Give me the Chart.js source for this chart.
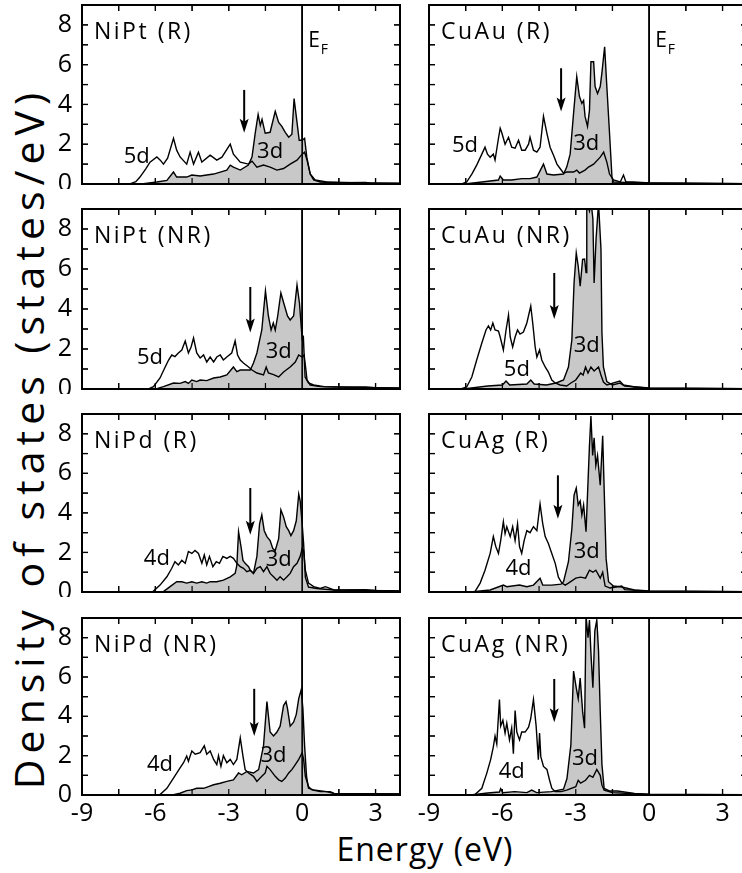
<!DOCTYPE html>
<html>
<head>
<meta charset="utf-8">
<title>Density of states</title>
<script src="https://cdn.jsdelivr.net/npm/chart.js@4.4.0/dist/chart.umd.min.js"></script>
<style>
  html, body { margin: 0; padding: 0; background: #fff; overflow: hidden; width: 742px; height: 873px; }
  canvas { position: absolute; }
  .title { position: absolute; font-family: 'Open Sans', sans-serif; color: #000; white-space: nowrap; }
  #ytitle { left: 28px; top: 438px; font-size: 41px; letter-spacing: 6px; transform: translate(-50%, -50%) rotate(-90deg); }
  #xtitle { left: 425px; top: 848px; font-size: 32px; letter-spacing: 1px; transform: translate(-50%, -50%); }
</style>
</head>
<body>
<div id="ytitle" class="title">Density of states (states/eV)</div>
<div id="xtitle" class="title">Energy (eV)</div>

<script>
// axis ticks
const energyTicks = [-9, -6, -3, 0, 3];
const dosTicks = [0, 2, 4, 6, 8];
const xMinor = [-7.5, -6, -4.5, -3, -1.5, 1.5, 3];
const yMinor = [1, 2, 3, 4, 5, 6, 7, 8];

// DOS curves, [energy (eV), states/eV]
const niptR_5d = [[-7.5,0],[-7.04,0],[-6.8,0.12],[-6.63,0.35],[-6.4,0.75],[-6.22,1.1],[-5.94,1.36],[-5.8,1.2],[-5.67,1.0],[-5.5,1.3],[-5.26,2.3],[-5.13,1.7],[-4.99,1.36],[-4.72,1.0],[-4.58,1.6],[-4.44,1.0],[-4.24,1.6],[-4.1,1.1],[-3.76,1.45],[-3.49,1.2],[-3.28,1.35],[-2.94,2.0],[-2.81,1.5],[-2.53,1.1],[-2.2,1.0],[-2.05,1.15],[-1.85,0.85],[-1.58,0.95],[-1.31,0.85],[-1.03,0.7],[-0.76,0.78],[-0.49,1.0],[-0.21,1.2],[0,1.5],[0.1,1.6],[0.2,1.2],[0.33,0.5],[0.47,0.2],[0.74,0.1],[1.5,0.06],[2.6,0.08],[2.8,0.04],[4,0.03]];
const niptR_3d = [[-7,0],[-6.49,0.02],[-5.94,0.1],[-5.53,0.18],[-5.26,0.6],[-5.13,0.35],[-4.72,0.35],[-4.51,0.45],[-4.17,0.4],[-3.9,0.45],[-3.62,0.5],[-3.35,0.6],[-3.08,0.7],[-2.94,0.95],[-2.81,0.85],[-2.53,0.7],[-2.2,0.95],[-2.05,1.35],[-1.92,2.55],[-1.8,3.5],[-1.71,2.95],[-1.64,3.25],[-1.51,2.55],[-1.31,2.6],[-1.1,3.65],[-0.96,3.1],[-0.83,2.9],[-0.69,2.6],[-0.55,2.35],[-0.42,2.5],[-0.33,4.3],[-0.21,3.1],[-0.12,2.2],[0,2.2],[0.1,2.3],[0.19,1.35],[0.33,0.5],[0.53,0.2],[1.0,0.1],[2,0.06],[4,0.04]];

const cuauR_5d = [[-8,0],[-7.66,0],[-7.46,0.1],[-7.25,0.5],[-7.05,0.95],[-6.84,1.5],[-6.71,1.85],[-6.61,1.5],[-6.5,1.35],[-6.37,1.5],[-6.3,1.2],[-6.16,2.3],[-6.09,2.8],[-6.03,2.6],[-5.89,2.0],[-5.75,2.35],[-5.62,1.85],[-5.48,1.8],[-5.34,2.2],[-5.21,1.7],[-5.07,1.7],[-4.93,2.0],[-4.87,2.35],[-4.73,1.7],[-4.59,1.6],[-4.46,1.85],[-4.32,3.4],[-4.18,2.55],[-4.05,1.85],[-3.91,1.45],[-3.77,1.0],[-3.64,0.78],[-3.5,0.55],[-3.37,0.6],[-3.09,0.6],[-2.96,0.7],[-2.85,0.55],[-2.62,0.7],[-2.48,0.85],[-2.27,1.0],[-2.0,1.35],[-1.86,1.6],[-1.73,1.1],[-1.62,0.5],[-1.46,0.2],[-1.18,0.1],[-1.05,0.45],[-0.95,0.1],[-0.64,0.1],[0,0.05],[4,0.02]];
const cuauR_3d = [[-7.6,0],[-7.46,0.02],[-6.84,0.1],[-6.16,0.2],[-6.09,0.4],[-5.96,0.2],[-5.62,0.2],[-5.21,0.27],[-4.87,0.27],[-4.59,0.35],[-4.32,1.0],[-4.18,0.5],[-3.91,0.45],[-3.5,0.5],[-3.37,0.85],[-3.23,1.5],[-3.09,3.55],[-2.96,5.4],[-2.85,4.4],[-2.75,4.05],[-2.68,4.2],[-2.62,3.4],[-2.52,2.9],[-2.44,3.7],[-2.38,6.15],[-2.27,6.15],[-2.21,4.9],[-2.11,4.55],[-2.0,4.9],[-1.93,5.6],[-1.82,6.9],[-1.73,4.9],[-1.62,2.55],[-1.52,0.35],[-1.46,0.1],[-1.0,0.08],[0,0.05],[4,0.02]];

const niptNR_5d = [[-6.5,0],[-6.28,0],[-6.08,0.12],[-5.81,0.55],[-5.6,1.1],[-5.46,1.45],[-5.33,1.7],[-5.2,1.62],[-5.06,1.8],[-4.92,1.95],[-4.78,2.4],[-4.65,1.8],[-4.54,2.1],[-4.44,2.55],[-4.31,1.8],[-4.17,1.55],[-4.03,1.7],[-3.9,1.35],[-3.76,1.6],[-3.62,1.35],[-3.49,1.6],[-3.35,1.7],[-3.22,1.45],[-3.08,1.6],[-2.88,1.8],[-2.74,2.4],[-2.64,1.7],[-2.53,1.45],[-2.4,1.3],[-2.19,1.1],[-2.05,0.95],[-1.85,0.8],[-1.58,0.7],[-1.47,1.1],[-1.38,0.8],[-1.17,0.72],[-0.96,0.6],[-0.76,0.85],[-0.49,1.1],[-0.28,1.35],[-0.14,1.7],[0,1.6],[0.08,1.7],[0.15,1.0],[0.2,0.45],[0.33,0.2],[0.74,0.12],[1.5,0.1],[2.6,0.1],[3.0,0.06],[4,0.04]];
const niptNR_3d = [[-6.2,0],[-5.94,0.02],[-5.67,0.12],[-5.26,0.3],[-4.99,0.28],[-4.78,0.37],[-4.65,0.28],[-4.51,0.45],[-4.31,0.37],[-4.17,0.45],[-3.9,0.42],[-3.62,0.55],[-3.35,0.6],[-3.08,0.7],[-2.81,1.1],[-2.67,0.87],[-2.53,0.95],[-2.33,0.95],[-2.12,0.95],[-1.99,1.3],[-1.85,1.8],[-1.65,2.95],[-1.5,4.9],[-1.38,3.65],[-1.27,2.95],[-1.18,3.3],[-1.1,2.95],[-1.0,3.65],[-0.87,4.8],[-0.73,4.2],[-0.6,3.65],[-0.49,3.45],[-0.35,3.65],[-0.21,5.2],[-0.11,4.3],[0,2.5],[0.05,2.6],[0.12,0.6],[0.26,0.3],[0.47,0.2],[0.9,0.12],[2,0.08],[4,0.05]];

const cuauNR_5d = [[-7.7,0],[-7.46,0.1],[-7.25,0.6],[-7.05,1.45],[-6.84,2.3],[-6.67,2.95],[-6.57,3.15],[-6.48,2.95],[-6.39,3.3],[-6.3,2.95],[-6.16,2.9],[-6.09,2.6],[-5.96,1.95],[-5.85,2.95],[-5.75,3.7],[-5.68,2.6],[-5.58,2.1],[-5.48,2.6],[-5.38,2.95],[-5.28,2.75],[-5.14,2.85],[-5.0,3.3],[-4.84,4.15],[-4.76,3.3],[-4.66,2.1],[-4.59,1.6],[-4.48,1.95],[-4.39,1.45],[-4.25,1.1],[-4.12,0.85],[-3.98,0.45],[-3.84,0.3],[-3.64,0.2],[-3.37,0.15],[-3.2,0.3],[-3.0,0.45],[-2.8,0.8],[-2.7,0.7],[-2.6,1.1],[-2.5,0.8],[-2.38,1.1],[-2.25,0.9],[-2.07,1.1],[-1.97,0.7],[-1.87,0.35],[-1.73,0.2],[-1.2,0.4],[-1.05,0.2],[-0.6,0.1],[0,0.04],[4,0.02]];
const cuauNR_3d = [[-7.6,0],[-6.6,0.15],[-6.0,0.2],[-5.85,0.4],[-5.7,0.2],[-5.0,0.25],[-4.84,0.45],[-4.7,0.25],[-4.2,0.2],[-3.8,0.3],[-3.5,0.45],[-3.3,1.1],[-3.16,2.46],[-3.07,5.3],[-2.98,6.8],[-2.9,6.15],[-2.82,5.14],[-2.72,6.48],[-2.64,6.5],[-2.58,5.82],[-2.55,9.3],[-2.44,8.9],[-2.38,9.4],[-2.3,8.5],[-2.25,5.3],[-2.17,7.5],[-2.07,9.3],[-1.97,7.0],[-1.93,2.8],[-1.87,1.1],[-1.73,0.37],[-1.5,0.2],[-1.2,0.3],[-1.0,0.15],[0,0.05],[4,0.02]];

const nipdR_4d = [[-6.4,0],[-6.1,0.02],[-5.81,0.35],[-5.53,0.77],[-5.33,1.2],[-5.2,1.53],[-5.06,1.37],[-4.92,1.6],[-4.78,1.45],[-4.65,2.05],[-4.51,1.95],[-4.38,2.1],[-4.24,1.95],[-4.1,1.45],[-4.0,1.87],[-3.9,1.37],[-3.79,1.8],[-3.65,1.28],[-3.51,1.53],[-3.38,1.45],[-3.24,1.8],[-3.08,1.7],[-2.94,1.8],[-2.81,1.7],[-2.67,1.45],[-2.53,1.28],[-2.4,1.2],[-2.26,1.03],[-2.12,1.1],[-1.99,0.94],[-1.85,1.2],[-1.71,1.28],[-1.58,1.03],[-1.44,1.28],[-1.31,0.94],[-1.17,0.77],[-1.03,0.6],[-0.9,0.77],[-0.76,0.6],[-0.62,0.77],[-0.49,0.94],[-0.35,1.28],[-0.21,1.45],[-0.08,1.8],[0,2.2],[0.06,2.1],[0.13,1.1],[0.26,0.45],[0.47,0.27],[0.74,0.18],[0.95,0.27],[1.3,0.1],[2.6,0.12],[3,0.08],[4,0.05]];
const nipdR_3d = [[-5.9,0],[-5.67,0.02],[-5.4,0.27],[-5.13,0.52],[-4.92,0.52],[-4.72,0.45],[-4.51,0.52],[-4.31,0.45],[-4.1,0.52],[-3.9,0.45],[-3.76,0.52],[-3.49,0.52],[-3.22,0.6],[-2.94,0.77],[-2.74,0.94],[-2.67,1.35],[-2.6,3.05],[-2.5,2.3],[-2.42,1.6],[-2.33,1.45],[-2.19,1.28],[-2.12,1.1],[-1.99,0.94],[-1.85,1.8],[-1.74,3.45],[-1.65,3.9],[-1.55,3.1],[-1.44,2.8],[-1.31,2.6],[-1.2,2.2],[-1.1,2.1],[-0.96,2.7],[-0.87,4.15],[-0.76,3.8],[-0.65,3.3],[-0.55,3.1],[-0.46,2.85],[-0.35,3.1],[-0.24,3.6],[-0.14,4.95],[-0.08,4.6],[0,3.45],[0.06,2.45],[0.13,0.75],[0.26,0.25],[0.6,0.18],[1.3,0.1],[4,0.05]];

const cuagR_4d = [[-7.4,0],[-7.12,0.02],[-6.91,0.45],[-6.71,1.1],[-6.5,1.95],[-6.37,2.8],[-6.27,2.3],[-6.16,1.95],[-6.07,2.6],[-5.96,3.55],[-5.89,2.95],[-5.82,3.3],[-5.68,2.8],[-5.58,3.3],[-5.48,2.6],[-5.38,3.45],[-5.3,2.3],[-5.21,1.95],[-5.11,2.6],[-5.0,3.1],[-4.87,3.0],[-4.73,3.3],[-4.59,3.1],[-4.46,4.45],[-4.35,3.45],[-4.25,2.8],[-4.12,2.45],[-3.98,1.95],[-3.84,1.45],[-3.71,0.75],[-3.57,0.45],[-3.43,0.35],[-3.3,0.45],[-3.0,0.7],[-2.8,0.75],[-2.6,0.7],[-2.44,1.1],[-2.3,1.0],[-2.18,1.1],[-2.0,0.7],[-1.9,1.0],[-1.8,0.3],[-1.6,0.2],[-1.12,0.3],[-1.0,0.12],[-0.5,0.08],[0,0.04],[4,0.02]];
const cuagR_3d = [[-7.3,0],[-6.5,0.1],[-5.96,0.35],[-5.82,0.27],[-5.3,0.35],[-5.0,0.27],[-4.73,0.35],[-4.46,0.7],[-4.35,0.35],[-3.98,0.35],[-3.6,0.4],[-3.5,0.52],[-3.3,1.53],[-3.16,3.2],[-3.07,4.9],[-2.98,5.25],[-2.9,4.4],[-2.82,4.6],[-2.75,3.9],[-2.68,4.4],[-2.58,3.05],[-2.51,5.25],[-2.44,7.4],[-2.38,8.9],[-2.31,6.9],[-2.25,7.8],[-2.18,6.4],[-2.11,6.9],[-2.0,5.4],[-1.9,7.9],[-1.84,5.25],[-1.76,1.7],[-1.66,0.52],[-1.46,0.3],[-1.12,0.25],[-0.6,0.1],[0,0.05],[4,0.02]];

const nipdNR_4d = [[-6.1,0],[-5.81,0.02],[-5.53,0.34],[-5.26,0.86],[-4.99,1.38],[-4.85,1.64],[-4.72,1.98],[-4.65,1.72],[-4.51,2.24],[-4.37,2.07],[-4.17,2.15],[-4.0,2.5],[-3.9,2.07],[-3.76,2.24],[-3.62,1.81],[-3.49,1.55],[-3.42,2.0],[-3.32,1.46],[-3.22,2.0],[-3.08,1.64],[-2.94,1.81],[-2.81,1.55],[-2.67,1.81],[-2.53,2.9],[-2.42,1.98],[-2.33,1.29],[-2.19,1.12],[-1.99,0.95],[-1.85,0.69],[-1.65,0.95],[-1.51,1.12],[-1.44,1.46],[-1.31,1.29],[-1.1,0.95],[-0.96,0.77],[-0.83,0.69],[-0.69,0.86],[-0.55,1.12],[-0.42,1.29],[-0.28,1.55],[-0.14,1.81],[0,2.15],[0.06,1.81],[0.13,0.95],[0.26,0.43],[0.4,0.26],[0.74,0.17],[1.15,0.17],[1.3,0.08],[4,0.05]];
const nipdNR_3d = [[-5.5,0],[-5.26,0.02],[-4.99,0.09],[-4.72,0.22],[-4.51,0.26],[-4.31,0.34],[-4.03,0.34],[-3.83,0.43],[-3.62,0.52],[-3.35,0.6],[-3.08,0.69],[-2.81,0.77],[-2.6,1.12],[-2.47,1.03],[-2.26,1.2],[-1.99,1.12],[-1.78,1.29],[-1.58,2.5],[-1.44,4.75],[-1.31,3.2],[-1.17,3.0],[-1.03,3.2],[-0.9,3.5],[-0.76,4.55],[-0.66,4.75],[-0.6,4.4],[-0.49,3.5],[-0.35,3.7],[-0.24,4.1],[-0.14,4.9],[-0.04,5.35],[0.03,4.4],[0.1,2.5],[0.18,0.95],[0.26,0.34],[0.47,0.26],[1.0,0.17],[1.3,0.08],[4,0.05]];

const cuagNR_4d = [[-7.4,0],[-7.12,0.02],[-6.84,0.34],[-6.64,1.1],[-6.48,1.8],[-6.37,2.45],[-6.3,3.0],[-6.23,2.6],[-6.12,4.85],[-6.07,3.5],[-5.98,3.8],[-5.89,3.15],[-5.82,3.65],[-5.71,2.8],[-5.62,3.4],[-5.55,2.1],[-5.48,4.3],[-5.41,3.2],[-5.3,2.8],[-5.21,3.2],[-5.07,3.2],[-4.93,3.45],[-4.84,3.9],[-4.73,4.85],[-4.62,3.5],[-4.53,1.8],[-4.48,3.15],[-4.43,1.95],[-4.32,1.45],[-4.18,1.3],[-4.07,0.75],[-3.98,0.35],[-3.84,0.17],[-3.6,0.17],[-3.37,0.25],[-3.0,0.42],[-2.9,0.75],[-2.8,0.6],[-2.6,0.75],[-2.44,1.0],[-2.3,0.9],[-2.14,1.3],[-2.0,1.0],[-1.93,0.5],[-1.84,0.25],[-1.5,0.12],[-0.6,0.06],[0,0.03],[4,0.02]];
const cuagNR_3d = [[-7.3,0],[-6.6,0.1],[-6.12,0.15],[-6.07,0.32],[-5.98,0.12],[-5.5,0.17],[-5.0,0.12],[-4.8,0.25],[-4.6,0.12],[-4.0,0.17],[-3.5,0.3],[-3.36,0.84],[-3.2,2.55],[-3.09,6.3],[-2.98,5.45],[-2.9,4.9],[-2.82,5.95],[-2.72,4.25],[-2.64,3.4],[-2.58,9.1],[-2.5,8.0],[-2.44,8.9],[-2.38,7.2],[-2.3,5.45],[-2.22,8.35],[-2.14,8.9],[-2.07,7.35],[-2.0,4.25],[-1.93,1.55],[-1.84,0.33],[-1.6,0.2],[-1.3,0.2],[-0.6,0.08],[0,0.04],[4,0.02]];

// panel layout (pixels) and annotations (data units)
const rowTop = [5, 209, 414, 618];
const rowBottom = [184, 389, 592, 795];
const colLeft = [82, 429];
const colRight = [400, 747];
const canvasLeft = [0, 400];

const panels = [
  { title: 'NiPt (R)',  col: 0, row: 0, other: niptR_5d,  d3: niptR_3d,  otherLabel: '5d', otherAt: [-6.76, 1.36], d3At: [-1.31, 1.6],  arrow: [-2.37, 4.73, 2.58] },
  { title: 'CuAu (R)',  col: 1, row: 0, other: cuauR_5d,  d3: cuauR_3d,  otherLabel: '5d', otherAt: [-7.53, 1.92], d3At: [-2.57, 2.04], arrow: [-3.6, 5.82, 3.64] },
  { title: 'NiPt (NR)', col: 0, row: 1, other: niptNR_5d, d3: niptNR_3d, otherLabel: '5d', otherAt: [-6.22, 1.54], d3At: [-0.96, 1.88], arrow: [-2.12, 5.1, 2.83] },
  { title: 'CuAu (NR)', col: 1, row: 1, other: cuauNR_5d, d3: cuauNR_3d, otherLabel: '5d', otherAt: [-5.41, 0.95], d3At: [-2.55, 2.16], arrow: [-3.88, 5.8, 3.5] },
  { title: 'NiPd (R)',  col: 0, row: 2, other: nipdR_4d,  d3: nipdR_3d,  otherLabel: '4d', otherAt: [-5.94, 1.7],  d3At: [-0.96, 1.61], arrow: [-2.12, 5.26, 2.9] },
  { title: 'CuAg (R)',  col: 1, row: 2, other: cuagR_4d,  d3: cuagR_3d,  otherLabel: '4d', otherAt: [-5.34, 1.16], d3At: [-2.55, 2.03], arrow: [-3.73, 5.9, 3.7] },
  { title: 'NiPd (NR)', col: 0, row: 3, other: nipdNR_4d, d3: nipdNR_3d, otherLabel: '4d', otherAt: [-5.81, 1.55], d3At: [-1.17, 2.0],  arrow: [-1.96, 5.4, 3.0] },
  { title: 'CuAg (NR)', col: 1, row: 3, other: cuagNR_4d, d3: cuagNR_3d, otherLabel: '4d', otherAt: [-5.62, 1.19], d3At: [-2.62, 1.86], arrow: [-3.88, 5.9, 3.7] }
];

const FONT = "'Open Sans', sans-serif";

function toPoints(arr) {
  return arr.map(p => ({ x: p[0], y: p[1] }));
}

// no automatic padding around the plot area
function noPad(s) {
  s.paddingTop = 0;
  s.paddingBottom = 0;
  s.paddingLeft = 0;
  s.paddingRight = 0;
}

function cleanState(ctx) {
  ctx.setTransform(1, 0, 0, 1, 0, 0);
  ctx.globalAlpha = 1;
  ctx.globalCompositeOperation = 'source-over';
  ctx.setLineDash([]);
  ctx.strokeStyle = '#000';
  ctx.fillStyle = '#000';
}

// text with a little space between letters, drawn one glyph at a time
function spacedText(ctx, text, x, y, gap) {
  let cx = x;
  for (const ch of text) {
    ctx.fillText(ch, cx, y);
    cx += ctx.measureText(ch).width + gap;
  }
}

// frame, inner ticks and Fermi level
function drawFrame(chart) {
  const { ctx, chartArea: a, scales: { x, y } } = chart;
  const line = (x1, y1, x2, y2) => { ctx.beginPath(); ctx.moveTo(x1, y1); ctx.lineTo(x2, y2); ctx.stroke(); };
  ctx.save();
  cleanState(ctx);
  ctx.lineWidth = 1.2;
  xMinor.forEach(v => {
    const px = x.getPixelForValue(v);
    line(px, a.bottom, px, a.bottom - 6);
    line(px, a.top, px, a.top + 6);
  });
  yMinor.forEach(v => {
    const py = y.getPixelForValue(v);
    line(a.left, py, a.left + 6, py);
    line(a.right, py, a.right - 6, py);
  });
  ctx.lineWidth = 2;
  ctx.beginPath();
  ctx.rect(a.left, a.top, a.right - a.left, a.bottom - a.top);
  ctx.stroke();
  ctx.lineWidth = 1.6;
  const xf = x.getPixelForValue(0);
  line(xf, a.top, xf, a.bottom);
  ctx.restore();
}

const decor = {
  id: 'decor',
  beforeDatasetsDraw(chart) {
    drawFrame(chart);
  },
  afterDraw(chart) {
    drawFrame(chart);
    const p = panels[chart.options.plugins.decor.index];
    const { ctx, chartArea: a, scales: { x, y } } = chart;
    const line = (x1, y1, x2, y2) => { ctx.beginPath(); ctx.moveTo(x1, y1); ctx.lineTo(x2, y2); ctx.stroke(); };
    ctx.save();
    cleanState(ctx);
    const xf = x.getPixelForValue(0);

    // arrow
    const ax = x.getPixelForValue(p.arrow[0]);
    const aTop = y.getPixelForValue(p.arrow[1]);
    const aTip = y.getPixelForValue(p.arrow[2]);
    ctx.lineWidth = 2;
    line(ax, aTop, ax, aTip - 8);
    ctx.beginPath();
    ctx.moveTo(ax, aTip);
    ctx.lineTo(ax - 4.5, aTip - 14);
    ctx.lineTo(ax, aTip - 11);
    ctx.lineTo(ax + 4.5, aTip - 14);
    ctx.closePath();
    ctx.fill();

    // panel title
    ctx.font = '23px ' + FONT;
    ctx.textAlign = 'left';
    ctx.textBaseline = 'alphabetic';
    spacedText(ctx, p.title, a.left + 12, a.top + 34, 2.5);

    // E_F label on top row
    if (p.row === 0) {
      ctx.font = '21px ' + FONT;
      ctx.fillText('E', xf + 6, a.top + 42);
      const w = ctx.measureText('E').width;
      ctx.font = '14px ' + FONT;
      ctx.fillText('F', xf + 6 + w + 1, a.top + 49);
    }

    // orbital labels
    ctx.font = '22px ' + FONT;
    ctx.textAlign = 'center';
    ctx.textBaseline = 'middle';
    ctx.fillText(p.otherLabel, x.getPixelForValue(p.otherAt[0]), y.getPixelForValue(p.otherAt[1]));
    ctx.fillText('3d', x.getPixelForValue(p.d3At[0]), y.getPixelForValue(p.d3At[1]));
    ctx.restore();
  }
};

panels.forEach((p, i) => {
  const lastRow = p.row === 3;
  const top = rowTop[p.row] - 5;
  const areaH = rowBottom[p.row] - rowTop[p.row];
  const height = lastRow ? 873 - top : areaH + 10;
  const left = canvasLeft[p.col];
  const width = colRight[p.col] - left + 12;

  const canvas = document.createElement('canvas');
  canvas.width = width;
  canvas.height = height;
  canvas.style.left = left + 'px';
  canvas.style.top = top + 'px';
  canvas.style.zIndex = String(10 - p.col);
  document.body.appendChild(canvas);

  new Chart(canvas.getContext('2d'), {
    type: 'line',
    data: {
      datasets: [
        {
          label: p.otherLabel,
          data: toPoints(p.other),
          borderColor: '#000',
          borderWidth: 1.4,
          pointRadius: 0,
          fill: false,
          tension: 0
        },
        {
          label: '3d',
          data: toPoints(p.d3),
          borderColor: '#000',
          borderWidth: 1.4,
          backgroundColor: '#c8c8c8',
          pointRadius: 0,
          fill: 'origin',
          tension: 0
        }
      ]
    },
    options: {
      responsive: false,
      animation: false,
      events: [],
      layout: { padding: { top: 5, right: width - colRight[p.col] + left, left: 0, bottom: 0 } },
      plugins: {
        legend: { display: false },
        tooltip: { enabled: false },
        decor: { index: i }
      },
      scales: {
        x: {
          type: 'linear',
          min: -9,
          max: 4,
          afterFit(s) { s.height = height - 5 - areaH; noPad(s); },
          afterBuildTicks(s) { s.ticks = energyTicks.map(v => ({ value: v })); },
          grid: { display: false, drawTicks: false },
          border: { display: false },
          ticks: {
            display: lastRow,
            autoSkip: false,
            maxRotation: 0,
            padding: 4,
            color: '#000',
            font: { family: FONT, size: 25 }
          }
        },
        y: {
          type: 'linear',
          min: 0,
          max: 9,
          afterFit(s) { s.width = colLeft[p.col] - left; noPad(s); },
          afterBuildTicks(s) { s.ticks = dosTicks.map(v => ({ value: v })); },
          grid: { display: false, drawTicks: false },
          border: { display: false },
          ticks: {
            display: p.col === 0,
            padding: 10,
            color: '#000',
            font: { family: FONT, size: 25 }
          }
        }
      }
    },
    plugins: [decor]
  });
});
</script>
</body>
</html>
